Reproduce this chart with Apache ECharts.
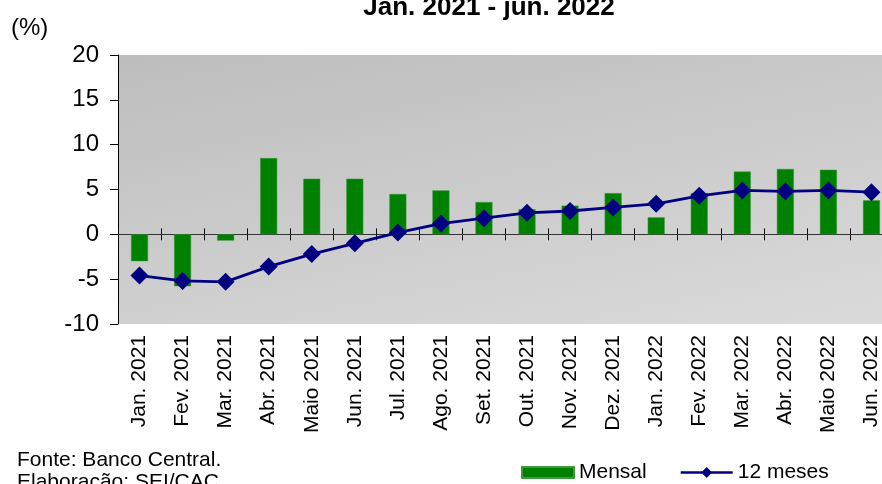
<!DOCTYPE html>
<html>
<head>
<meta charset="utf-8">
<script src="https://cdn.jsdelivr.net/npm/echarts@6/dist/echarts.min.js"></script>
<style>
html,body{margin:0;padding:0;background:#fff;}
#c{width:882px;height:484px;}
</style>
</head>
<body>
<div id="c"></div>
<script>
const categories = ['Jan. 2021','Fev. 2021','Mar. 2021','Abr. 2021','Maio 2021','Jun. 2021','Jul. 2021','Ago. 2021','Set. 2021','Out. 2021','Nov. 2021','Dez. 2021','Jan. 2022','Fev. 2022','Mar. 2022','Abr. 2022','Maio 2022','Jun. 2022'];
const mensal = [-3.0,-5.8,-0.7,8.5,6.2,6.2,4.5,4.9,3.6,2.8,3.2,4.6,1.9,4.6,7.0,7.3,7.2,3.8];
const meses12 = [-4.6,-5.2,-5.3,-3.6,-2.2,-1.0,0.2,1.2,1.8,2.4,2.6,3.0,3.4,4.3,4.9,4.8,4.9,4.7];
const yTicks = {min:-10, max:20, interval:5};
const titleText = 'Jan. 2021 - jun. 2022';

const FONT = 'Liberation Sans, Arial, sans-serif';
const chart = echarts.init(document.getElementById('c'), null, {renderer:'canvas'});

const bg = new echarts.graphic.LinearGradient(0,0,0.104,1.478,[
  {offset:0,color:'#bdbdbd'},{offset:1,color:'#dadada'}
]);

const baseX = {type:'category', data:categories, boundaryGap:true, gridIndex:0};
const lineIcon = 'path://M0,4.3H52V6.7H0Z M26,0L31.5,5.5L26,11L20.5,5.5Z';

chart.setOption({
  animation:false,
  textStyle:{fontFamily:FONT,color:'#000'},
  title:{text:titleText,left:489,top:-5,textAlign:'center',padding:0,
    textStyle:{fontFamily:FONT,fontWeight:'bold',fontSize:26,color:'#000'}},
  grid:{left:118,width:775,top:55,bottom:160,show:true,backgroundColor:bg,borderWidth:0,
    outerBoundsMode:'none',containLabel:false},
  legend:{left:521,top:462,padding:0,itemWidth:52,itemHeight:11,itemGap:34,
    textStyle:{fontFamily:FONT,fontSize:21,color:'#000'},
    data:[{name:'Mensal',icon:'rect'},{name:'12 meses',icon:lineIcon,itemStyle:{color:'#000080'}}]},
  graphic:[
    {type:'text',left:11,top:16,style:{text:'(%)',font:'24px '+FONT,fill:'#000'}},
    {type:'text',left:17,top:450,style:{text:'Fonte: Banco Central.',font:'21px '+FONT,fill:'#000'}},
    {type:'text',left:17,top:472,style:{text:'Elaboração: SEI/CAC',font:'21px '+FONT,fill:'#000'}}
  ],
  xAxis:[
    Object.assign({},baseX,{position:'bottom',axisLine:{show:false,onZero:false},axisTick:{show:false},
      axisLabel:{rotate:90,fontSize:21,margin:11,color:'#000',fontFamily:FONT,interval:0}}),
    Object.assign({},baseX,{position:'bottom',axisLine:{show:true,onZero:true,onZeroAxisIndex:0,lineStyle:{color:'#333',width:1}},
      axisTick:{show:true,interval:0,inside:false,length:6,lineStyle:{color:'#111'}},axisLabel:{show:false}}),
    Object.assign({},baseX,{position:'bottom',axisLine:{show:false,onZero:true,onZeroAxisIndex:0},
      axisTick:{show:true,interval:0,inside:true,length:6,lineStyle:{color:'#111'}},axisLabel:{show:false}})
  ],
  yAxis:[{type:'value',min:yTicks.min,max:yTicks.max,interval:yTicks.interval,position:'left',
    axisLine:{show:true,lineStyle:{color:'#000',width:1}},
    axisTick:{show:true,length:8,lineStyle:{color:'#000'}},
    splitLine:{show:false},
    axisLabel:{fontSize:24,margin:19,color:'#000',fontFamily:FONT}}],
  series:[
    {name:'Mensal',type:'bar',xAxisIndex:0,yAxisIndex:0,data:mensal,barWidth:17,
      itemStyle:{color:'#008000',borderColor:'#3d9a3d',borderWidth:0.5},z:2},
    {name:'12 meses',type:'line',xAxisIndex:0,yAxisIndex:0,data:meses12,
      symbol:'diamond',symbolSize:[18,18],
      lineStyle:{color:'#000080',width:2.8},itemStyle:{color:'#000080'},z:3}
  ]
});
</script>
</body>
</html>
